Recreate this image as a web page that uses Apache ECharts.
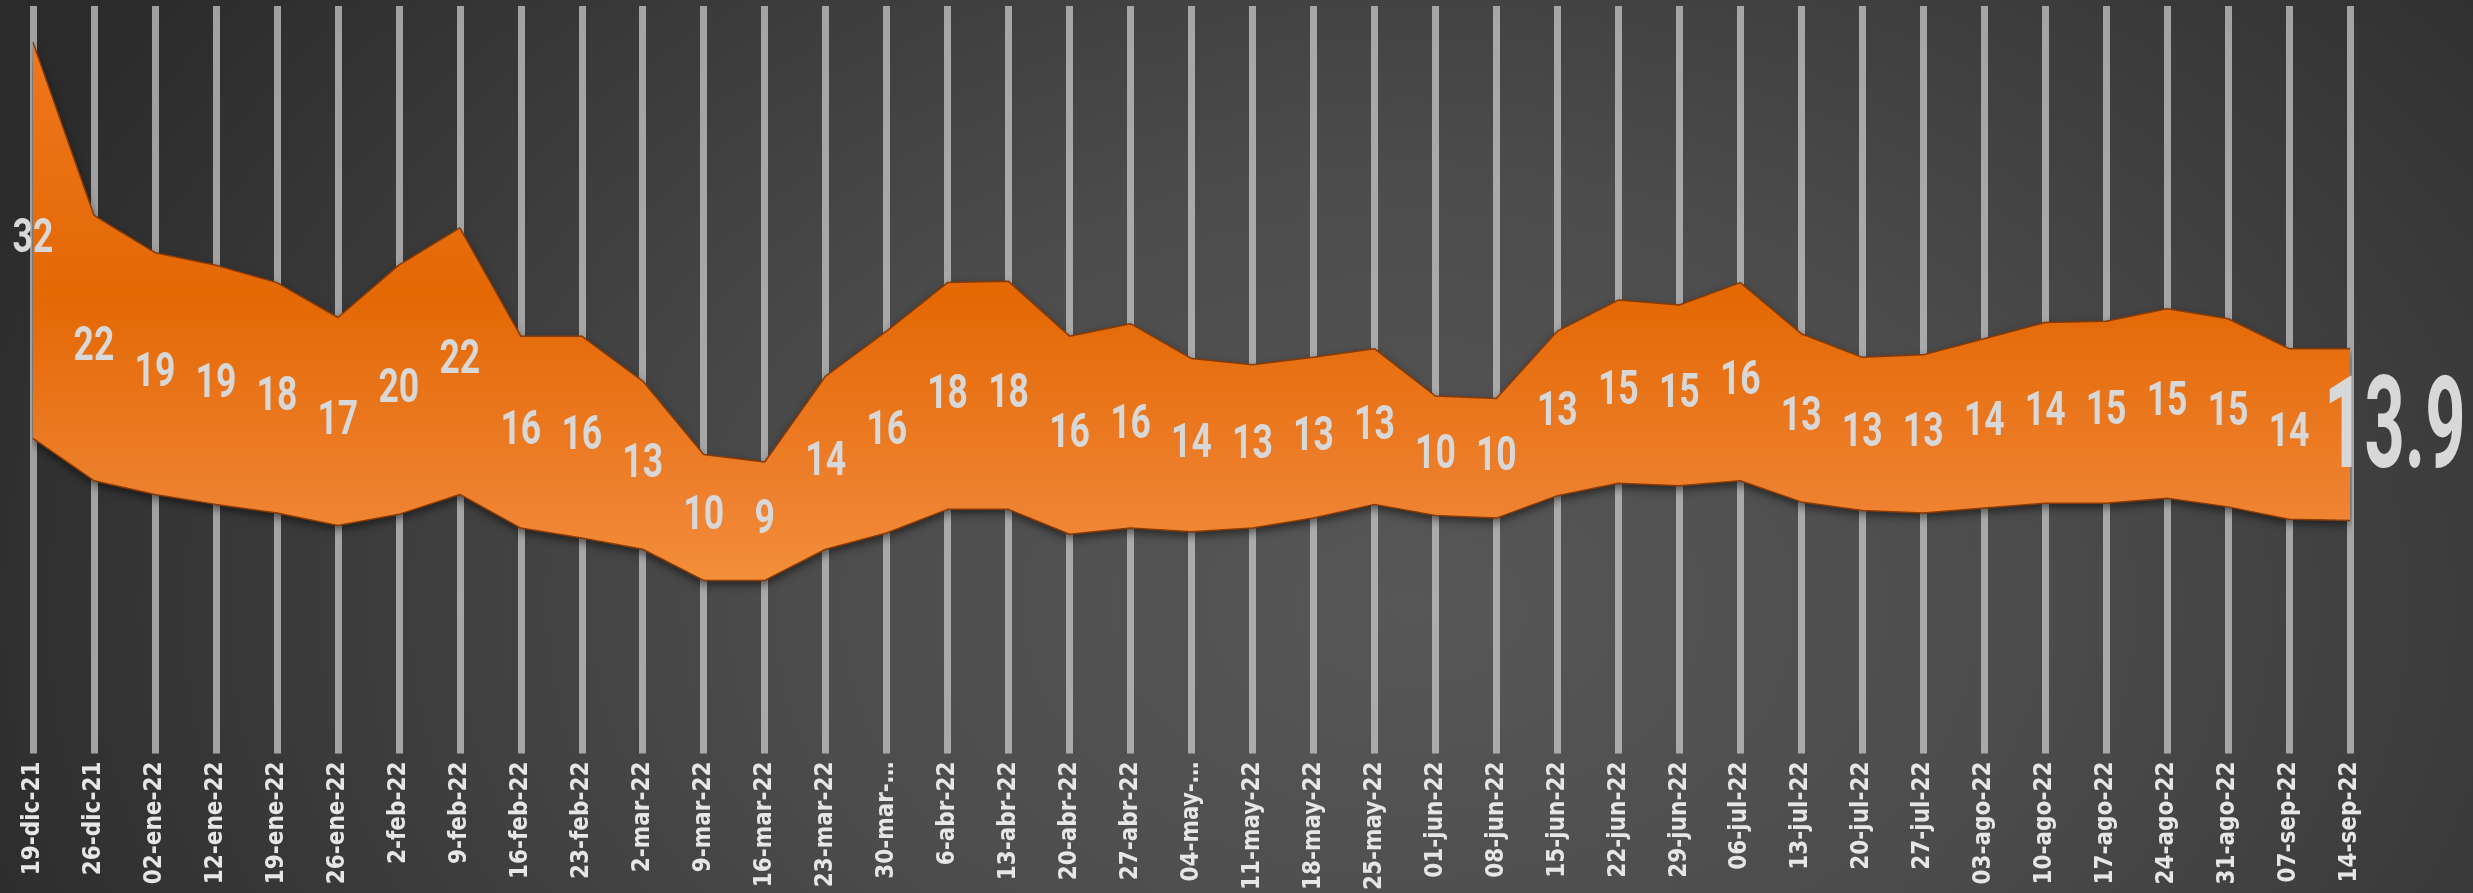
<!DOCTYPE html>
<html><head><meta charset="utf-8">
<script src="https://cdn.jsdelivr.net/npm/echarts@6.0.0/dist/echarts.min.js"></script>
<style>
html,body{margin:0;padding:0;width:2473px;height:893px;overflow:hidden;background:#2b2b2b;}
#c{width:2473px;height:893px;background:radial-gradient(ellipse 62% 120% at 57% 68%, #575757 0%, #4c4c4c 40%, #2b2b2b 100%);}
</style></head><body><div id="c"></div>
<script>
const categories = ['19-dic-21','26-dic-21','02-ene-22','12-ene-22','19-ene-22','26-ene-22','2-feb-22','9-feb-22','16-feb-22','23-feb-22','2-mar-22','9-mar-22','16-mar-22','23-mar-22','30-mar-…','6-abr-22','13-abr-22','20-abr-22','27-abr-22','04-may-…','11-may-22','18-may-22','25-may-22','01-jun-22','08-jun-22','15-jun-22','22-jun-22','29-jun-22','06-jul-22','13-jul-22','20-jul-22','27-jul-22','03-ago-22','10-ago-22','17-ago-22','24-ago-22','31-ago-22','07-sep-22','14-sep-22'];
const lower = [15.3,11.9,10.8,10.0,9.3,8.3,9.2,10.8,8.1,7.3,6.4,3.9,3.9,6.4,7.7,9.6,9.6,7.6,8.1,7.8,8.1,8.9,10.0,9.1,8.9,10.7,11.7,11.5,11.9,10.2,9.5,9.3,9.7,10.1,10.1,10.5,9.8,8.8,8.7];
const upper = [47.1,33.2,30.2,29.2,27.8,25.0,29.2,32.2,23.5,23.5,19.9,14.0,13.4,20.3,23.9,27.8,27.9,23.5,24.5,21.7,21.2,21.8,22.5,18.7,18.5,23.9,26.4,26.0,27.8,23.7,21.8,22.0,23.3,24.6,24.7,25.7,24.9,22.5,22.5];
const labels = [32,22,19,19,18,17,20,22,16,16,13,10,9,14,16,18,18,16,16,14,13,13,13,10,10,13,15,15,16,13,13,13,14,14,15,15,15,14,13.9];

const LABEL_FONT = "Roboto, 'Liberation Sans', sans-serif";
const AXIS_FONT = "'DejaVu Sans Condensed','DejaVu Sans',sans-serif";
const bandWidth = upper.map((u, i) => +(u - lower[i]).toFixed(2));
const mids = upper.map((u, i) => (u + lower[i]) / 2);
const last = mids.length - 1;
const labelData = mids.map((m, i) => [i, m, labels[i]]);

const chart = echarts.init(document.getElementById('c'), null, { renderer: 'canvas' });
chart.setOption({
  backgroundColor: 'transparent',
  animation: false,
  grid: { left: 33, right: 123, top: 6, bottom: 136, containLabel: false },
  xAxis: {
    type: 'category', data: categories, boundaryGap: false,
    axisLine: { show: false }, axisTick: { show: false },
    axisLabel: { interval: 0, rotate: 90, color: '#e6e6e6', fontSize: 24, fontWeight: 'bold', fontFamily: AXIS_FONT, margin: 8 },
    splitLine: { show: true, interval: 0, lineStyle: { color: 'rgba(205,205,205,0.72)', width: 7 } }
  },
  yAxis: { type: 'value', min: -10, max: 50, show: false, splitLine: { show: false } },
  series: [
    {
      name: 'lower', type: 'line', stack: 'band', data: lower, symbol: 'none', z: 4,
      lineStyle: { color: '#8a3a06', width: 1.5 }
    },
    {
      name: 'band', type: 'line', stack: 'band', data: bandWidth, symbol: 'none', z: 3,
      lineStyle: { color: '#8a3a06', width: 1.5 },
      areaStyle: {
        opacity: 1,
        color: new echarts.graphic.LinearGradient(0, 0, 0, 893, [
          { offset: 0, color: '#f07a22' },
          { offset: 0.33, color: '#e46804' },
          { offset: 0.56, color: '#ee812f' },
          { offset: 0.7, color: '#f6963f' },
          { offset: 1, color: '#f89b44' }
        ], true),
        shadowColor: 'rgba(0,0,0,0.55)', shadowBlur: 10, shadowOffsetY: 4
      }
    },
    {
      name: 'labels', type: 'custom', data: labelData, z: 10,
      encode: { x: 0, y: 1 },
      renderItem: function (params, api) {
        const i = api.value(0);
        const pt = api.coord([i, api.value(1)]);
        const txt = String(api.value(2));
        const big = params.dataIndex === last;
        return {
          type: 'text',
          x: big ? pt[0] - 26 : pt[0],
          y: pt[1],
          scaleX: big ? 0.55 : 0.74,
          style: {
            x: 0, y: 0, text: txt,
            fill: '#d8d8d8',
            font: 'bold ' + (big ? 128 : 48) + 'px ' + LABEL_FONT,
            align: big ? 'left' : 'center',
            verticalAlign: 'middle',
            shadowColor: 'rgba(0,0,0,0.55)', shadowBlur: 4, shadowOffsetX: 2, shadowOffsetY: 3
          }
        };
      }
    }
  ]
});
</script>
</body></html>
